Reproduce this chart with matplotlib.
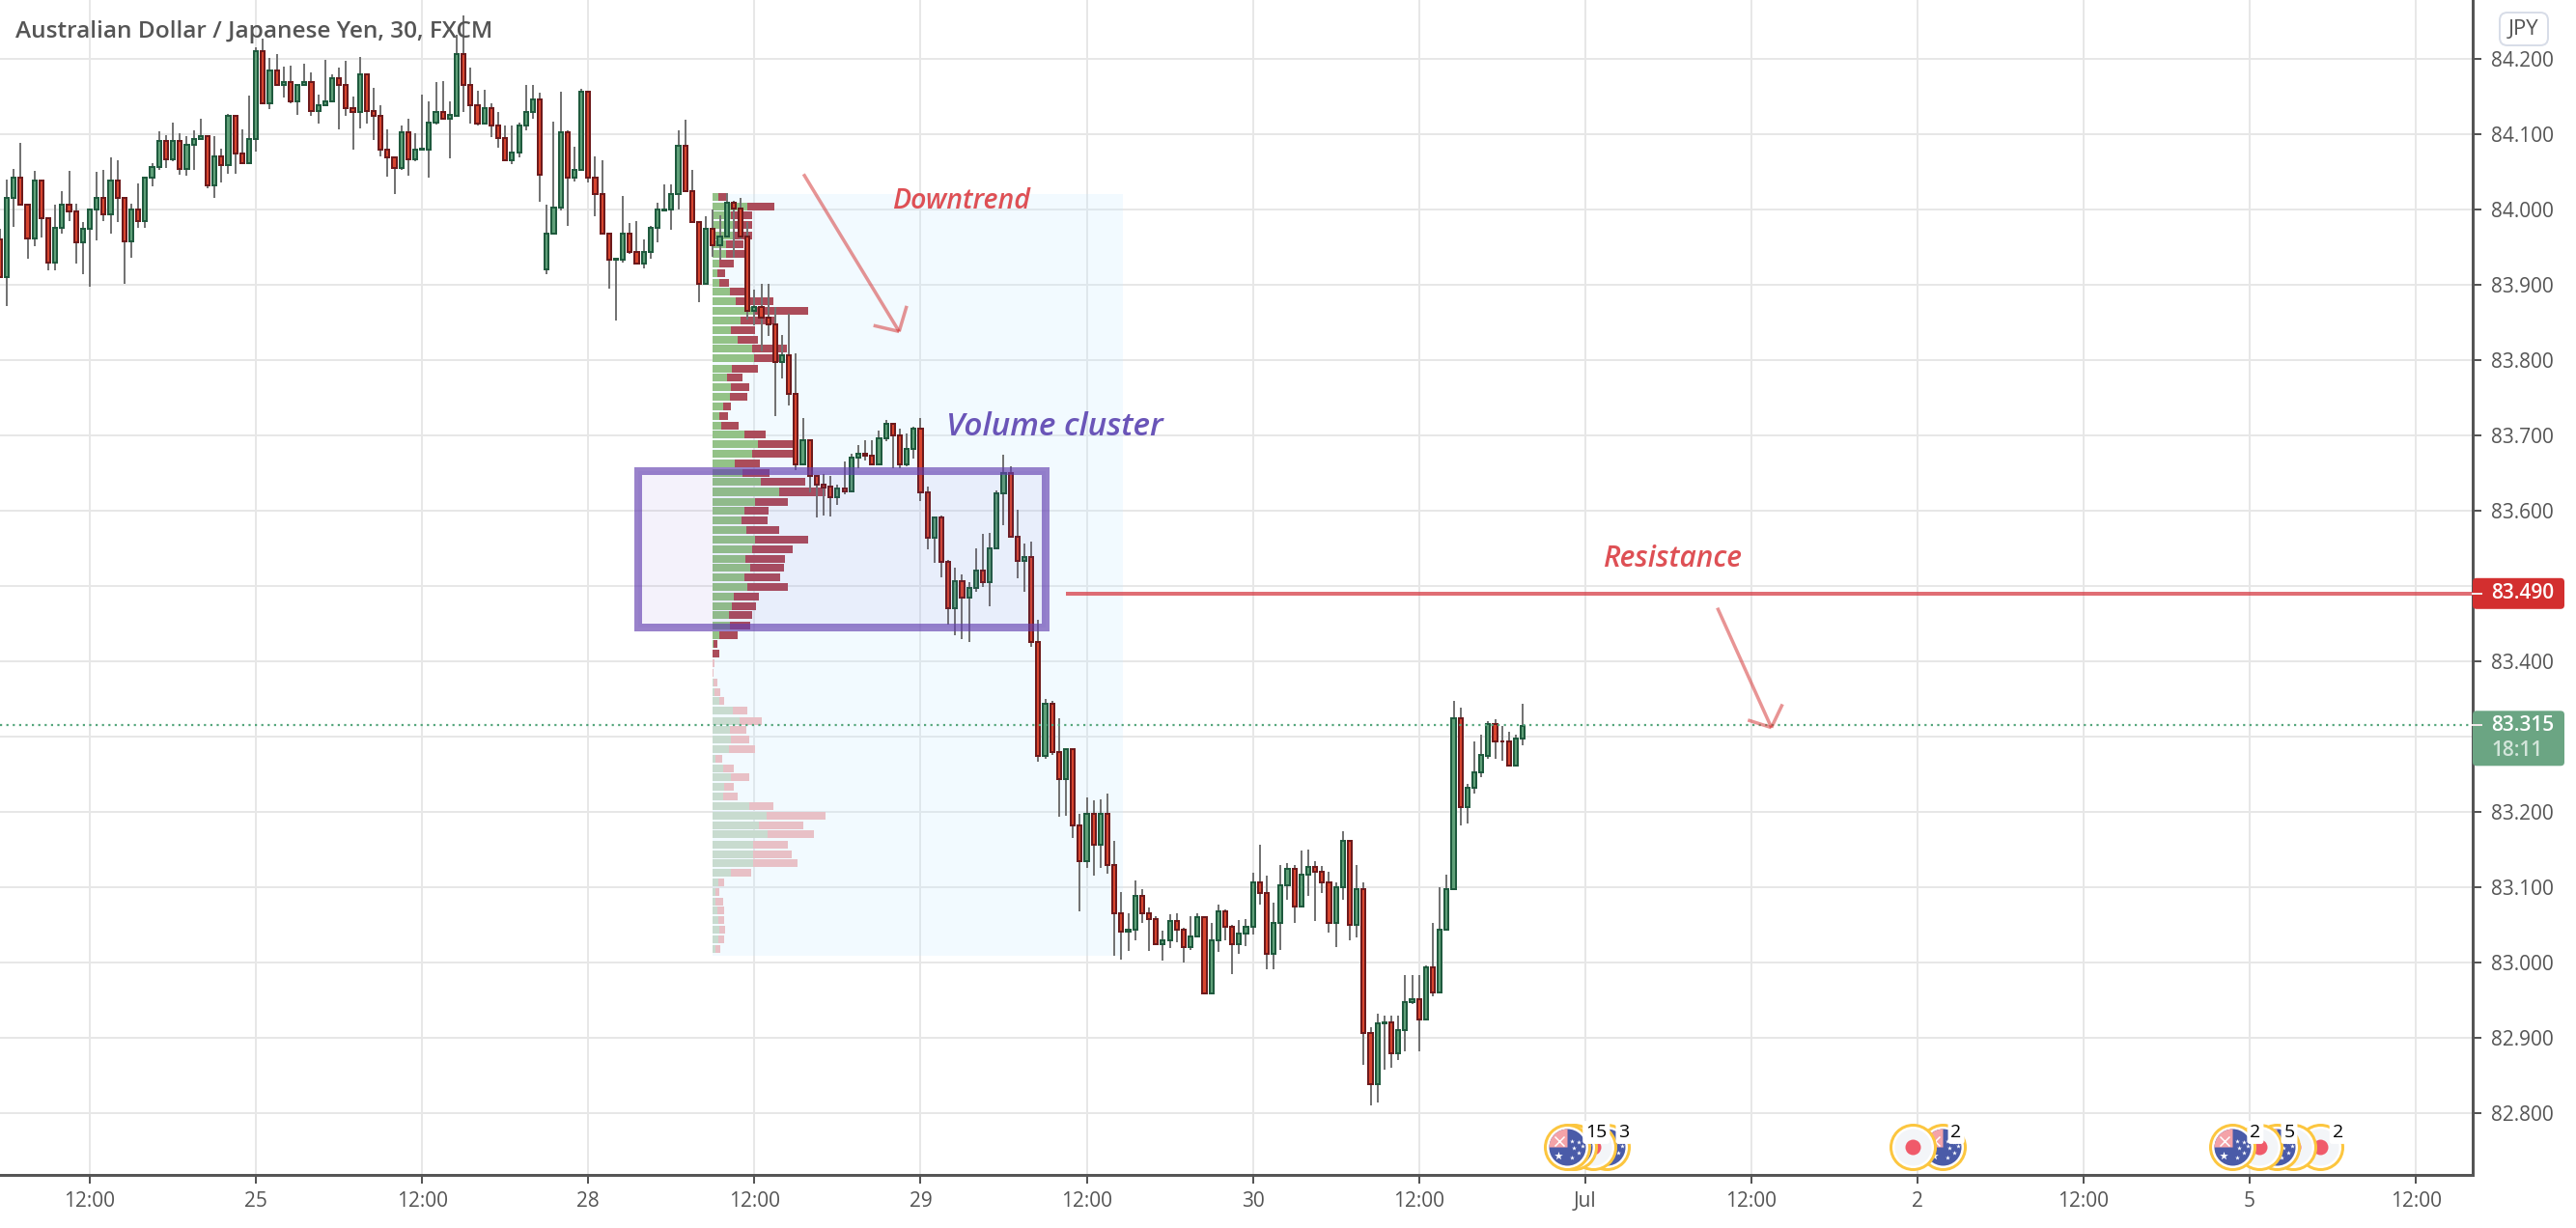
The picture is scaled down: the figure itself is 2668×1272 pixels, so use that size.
import numpy as np
import matplotlib
matplotlib.use('Agg')
import matplotlib.pyplot as plt
from matplotlib.patches import Rectangle, FancyBboxPatch
from matplotlib.path import Path
from matplotlib.transforms import IdentityTransform

# AUD/JPY 30 minute candles
opens = [83.960,83.910,84.015,84.042,84.006,83.962,84.038,83.989,83.930,83.976,
84.006,83.998,83.956,83.974,84.000,84.015,83.994,84.039,84.015,83.958,
84.000,83.984,84.042,84.056,84.091,84.067,84.091,84.054,84.086,84.093,
84.097,84.032,84.071,84.059,84.124,84.074,84.062,84.094,84.210,84.141,
84.185,84.166,84.169,84.143,84.166,84.169,84.131,84.139,84.143,84.175,
84.165,84.134,84.129,84.179,84.131,84.124,84.079,84.069,84.055,84.102,
84.067,84.079,84.080,84.115,84.130,84.121,84.125,84.206,84.166,84.139,
84.114,84.134,84.112,84.095,84.065,84.076,84.111,84.129,84.146,83.920,
83.968,84.003,84.102,84.042,84.053,84.156,84.042,84.020,83.968,83.933,
83.933,83.968,83.944,83.928,83.944,83.976,83.999,84.000,84.020,84.085,
84.024,83.983,83.901,83.974,83.953,83.964,84.009,84.001,83.964,83.866,
83.871,83.856,83.848,83.798,83.806,83.755,83.661,83.694,83.646,83.634,
83.632,83.618,83.629,83.626,83.670,83.676,83.673,83.662,83.696,83.716,
83.700,83.661,83.682,83.709,83.625,83.564,83.591,83.532,83.470,83.506,
83.485,83.497,83.520,83.505,83.550,83.623,83.650,83.566,83.533,83.538,
83.426,83.275,83.344,83.280,83.244,83.283,83.182,83.134,83.198,83.156,
83.198,83.130,83.065,83.041,83.043,83.088,83.065,83.058,83.025,83.030,
83.055,83.043,83.021,83.034,83.060,82.959,83.029,83.068,83.047,83.024,
83.039,83.047,83.107,83.092,83.012,83.052,83.102,83.125,83.075,83.117,
83.127,83.120,83.107,83.053,83.100,83.161,83.050,83.097,82.907,82.838,
82.919,82.921,82.879,82.910,82.948,82.951,82.925,82.993,82.960,83.043,
83.098,83.324,83.207,83.232,83.253,83.275,83.317,83.294,83.293,83.262,
83.298]
closes = [83.910,84.015,84.042,84.006,83.962,84.038,83.989,83.930,83.976,84.006,
83.998,83.956,83.974,84.000,84.015,83.994,84.039,84.015,83.958,84.000,
83.984,84.042,84.056,84.091,84.067,84.091,84.054,84.086,84.093,84.097,
84.032,84.071,84.059,84.124,84.074,84.062,84.094,84.210,84.141,84.185,
84.166,84.169,84.143,84.166,84.169,84.131,84.139,84.143,84.175,84.165,
84.134,84.129,84.179,84.131,84.124,84.079,84.069,84.055,84.102,84.067,
84.079,84.081,84.115,84.130,84.121,84.125,84.206,84.166,84.139,84.114,
84.134,84.112,84.095,84.065,84.076,84.111,84.129,84.146,84.046,83.968,
84.003,84.102,84.042,84.053,84.156,84.042,84.020,83.968,83.933,83.934,
83.968,83.944,83.928,83.944,83.976,84.000,84.000,84.020,84.085,84.024,
83.983,83.901,83.974,83.953,83.964,84.009,84.001,83.964,83.866,83.871,
83.856,83.848,83.798,83.806,83.755,83.661,83.694,83.646,83.634,83.631,
83.618,83.629,83.626,83.670,83.676,83.673,83.662,83.696,83.716,83.700,
83.661,83.682,83.709,83.625,83.564,83.591,83.532,83.470,83.506,83.485,
83.497,83.520,83.505,83.550,83.623,83.650,83.566,83.533,83.538,83.426,
83.275,83.344,83.280,83.244,83.283,83.182,83.134,83.198,83.156,83.198,
83.130,83.065,83.041,83.043,83.088,83.065,83.058,83.025,83.030,83.055,
83.043,83.021,83.034,83.060,82.959,83.029,83.068,83.047,83.024,83.039,
83.047,83.107,83.092,83.012,83.052,83.102,83.125,83.075,83.117,83.127,
83.120,83.107,83.053,83.100,83.161,83.050,83.097,82.907,82.838,82.919,
82.921,82.879,82.910,82.948,82.951,82.925,82.993,82.960,83.043,83.098,
83.324,83.207,83.232,83.253,83.275,83.317,83.294,83.293,83.262,83.298,
83.314]
highs = [83.975,84.040,84.054,84.088,84.006,84.051,84.038,83.989,84.006,84.024,
84.051,84.008,83.983,84.000,84.050,84.052,84.069,84.065,84.015,84.008,
84.035,84.044,84.062,84.104,84.099,84.115,84.101,84.097,84.105,84.121,
84.098,84.097,84.081,84.127,84.124,84.106,84.151,84.215,84.227,84.201,
84.206,84.190,84.191,84.166,84.193,84.182,84.153,84.199,84.180,84.189,
84.197,84.150,84.202,84.179,84.161,84.138,84.106,84.069,84.111,84.121,
84.101,84.152,84.143,84.169,84.170,84.143,84.232,84.258,84.188,84.158,
84.159,84.141,84.129,84.112,84.112,84.116,84.165,84.165,84.155,84.006,
84.117,84.156,84.105,84.083,84.160,84.156,84.071,84.065,83.968,83.936,
84.018,83.982,83.985,83.960,83.978,84.009,84.033,84.033,84.105,84.119,
84.053,83.983,83.991,84.000,83.992,84.022,84.011,84.015,83.983,83.894,
83.901,83.901,83.870,83.833,83.861,83.809,83.723,83.694,83.647,83.649,
83.646,83.634,83.665,83.676,83.687,83.694,83.693,83.706,83.721,83.716,
83.709,83.703,83.711,83.723,83.632,83.591,83.593,83.535,83.524,83.515,
83.505,83.550,83.569,83.570,83.627,83.674,83.659,83.601,83.556,83.559,
83.455,83.350,83.347,83.324,83.283,83.283,83.197,83.219,83.216,83.217,
83.225,83.161,83.093,83.065,83.109,83.097,83.073,83.061,83.042,83.064,
83.066,83.046,83.062,83.066,83.061,83.052,83.077,83.070,83.050,83.056,
83.058,83.119,83.157,83.116,83.079,83.129,83.132,83.130,83.149,83.150,
83.134,83.128,83.120,83.107,83.174,83.161,83.129,83.107,82.914,82.932,
82.929,82.930,82.930,82.983,82.983,82.983,82.996,83.053,83.100,83.117,
83.348,83.339,83.237,83.293,83.303,83.321,83.323,83.314,83.307,83.303,
83.344]
lows = [83.910,83.872,83.977,84.006,83.934,83.951,83.963,83.919,83.919,83.968,
83.985,83.928,83.914,83.897,83.959,83.985,83.968,83.983,83.901,83.936,
83.976,83.976,84.031,84.053,84.055,84.064,84.046,84.045,84.053,84.093,
84.028,84.015,84.036,84.047,84.047,84.060,84.061,84.077,84.141,84.133,
84.166,84.149,84.141,84.126,84.166,84.124,84.114,84.138,84.143,84.107,
84.124,84.079,84.108,84.114,84.092,84.071,84.044,84.020,84.052,84.045,
84.064,84.079,84.042,84.113,84.120,84.068,84.125,84.130,84.114,84.111,
84.114,84.096,84.082,84.064,84.060,84.069,84.105,84.120,84.010,83.914,
83.968,83.999,83.978,84.037,84.053,84.036,83.991,83.968,83.895,83.852,
83.930,83.941,83.928,83.922,83.935,83.956,83.999,83.973,84.000,84.024,
83.983,83.877,83.901,83.937,83.933,83.964,83.936,83.960,83.854,83.846,
83.812,83.832,83.726,83.776,83.740,83.654,83.661,83.624,83.591,83.594,
83.592,83.608,83.622,83.624,83.656,83.667,83.662,83.662,83.692,83.657,
83.656,83.659,83.669,83.613,83.549,83.531,83.512,83.449,83.435,83.429,
83.426,83.492,83.499,83.473,83.550,83.581,83.566,83.510,83.492,83.419,
83.267,83.270,83.276,83.193,83.195,83.166,83.068,83.126,83.116,83.125,
83.118,83.009,83.004,83.016,83.030,83.052,83.016,83.025,83.003,83.019,
83.027,83.000,83.017,83.034,82.959,82.959,83.014,83.030,82.985,83.012,
83.022,83.037,83.077,82.991,82.991,83.017,83.083,83.053,83.075,83.088,
83.055,83.092,83.040,83.021,83.083,83.030,83.033,82.864,82.810,82.814,
82.858,82.860,82.871,82.882,82.945,82.882,82.924,82.955,82.959,83.043,
83.097,83.182,83.184,83.225,83.246,83.270,83.271,83.268,83.261,83.262,
83.289]

# fixed range volume profile, one row per price level
profile_prices = [84.017,84.004,83.992,83.979,83.966,83.954,83.941,83.928,83.916,83.903,
83.891,83.878,83.865,83.853,83.840,83.827,83.815,83.802,83.789,83.777,
83.764,83.751,83.739,83.726,83.713,83.701,83.688,83.676,83.663,83.650,
83.638,83.625,83.612,83.600,83.587,83.574,83.562,83.549,83.536,83.524,
83.511,83.499,83.486,83.473,83.461,83.448,83.435,83.423,83.410,83.397,
83.385,83.372,83.359,83.347,83.334,83.321,83.309,83.296,83.283,83.271,
83.258,83.246,83.233,83.220,83.208,83.195,83.182,83.170,83.157,83.144,
83.132,83.119,83.107,83.094,83.081,83.069,83.056,83.043,83.031,83.018]
buy_vol = [18,108,57,67,66,42,42,21,15,21,
54,72,126,87,57,78,123,129,60,45,
57,54,33,21,27,99,141,123,69,93,
150,207,132,99,90,105,132,123,102,117,
99,108,66,60,51,54,21,3,0,0,
0,3,6,21,63,84,54,57,51,9,
33,57,36,33,114,168,144,171,126,126,
126,57,18,9,9,15,18,21,18,9]
total_vol = [46,192,123,123,123,96,102,66,39,51,
105,189,297,195,132,141,231,216,141,93,
114,108,57,48,81,165,261,258,147,177,
288,351,234,174,171,207,297,249,225,222,
210,234,144,135,123,117,78,15,21,6,
3,15,24,36,108,153,105,114,132,30,
66,114,66,78,189,351,282,315,234,246,
264,120,36,21,33,36,36,39,36,24]

price_ticks = [82.8,82.9,83.0,83.1,83.2,83.3,83.4,83.5,83.6,83.7,83.8,83.9,84.0,84.1,84.2]
# 83.300 and 83.500 sit under the last price and resistance tags
price_labels = ['82.800','82.900','83.000','83.100','83.200','','83.400','','83.600','83.700','83.800','83.900','84.000','84.100','84.200']
time_ticks = [13,37,61,85,109,133,157,181,205,229,253,277,301,325,349]
time_labels = ['12:00','25','12:00','28','12:00','29','12:00','30','12:00','Jul','12:00','2','12:00','5','12:00']

# economic calendar events on the time axis
event_bars = [226.4,227.4,230.1,232.1,276.3,280.6,322.5,326.4,328.9,331.3,335.2]
event_kinds = ['AU','AU','JP','AU','JP','AU','AU','JP','AU','JP','JP']
count_bars = [230.6,234.6,282.6,325.8,330.7,337.7]
count_labels = ['15','3','2','2','5','2']

last_price = 83.315
resistance = 83.490

font = 'Open Sans'
W, H = 2668, 1272
AXIS_X, AXIS_Y = 2561, 1217
BAR_PX = 7.17
PRICE_PX = 780.0
px = 0.72  # points per pixel at dpi 100

plt.rcParams['font.family'] = [font, 'DejaVu Sans']
fig = plt.figure(figsize=(W / 100, H / 100), dpi=100, facecolor='white')
ax = fig.add_axes([0, (H - AXIS_Y) / H, AXIS_X / W, AXIS_Y / H])
ax.set_xlim(0.024, 357.2)
ax.set_ylim(84.2 - (AXIS_Y - 61) / PRICE_PX, 84.2 + 61 / PRICE_PX)

ax.set_xticks(time_ticks, time_labels)
ax.set_yticks(price_ticks, price_labels)
ax.yaxis.tick_right()
ax.set_axisbelow(True)
ax.grid(True, color='#e7e7e7', linewidth=2 * px)
ax.tick_params(axis='both', colors='#555555', labelsize=15, length=9 * px, width=2 * px)
ax.tick_params(axis='x', pad=6)
ax.tick_params(axis='y', pad=7)
for s in ['top', 'left']:
    ax.spines[s].set_visible(False)
for s in ['bottom', 'right']:
    ax.spines[s].set_color('#555555')
    ax.spines[s].set_linewidth(3 * px)

# blue date range background
ax.add_patch(Rectangle((102.95, 83.009), 59.25, 1.012, facecolor=(0.78, 0.92, 1.0, 0.22),
                       edgecolor='none', zorder=1))

# volume profile
vol_scale = 1 / (3 * BAR_PX)
buy = np.array(buy_vol)
total = np.array(total_vol)
faded = np.arange(len(buy)) >= 49
buy_colors = np.where(faded, '#c8dbcf', '#93c287')
sell_colors = np.where(faded, '#e8c0c6', '#ab4c5a')
ax.barh(profile_prices, buy * vol_scale, height=0.0103, left=102.95, color=buy_colors, zorder=2)
ax.barh(profile_prices, (total - buy) * vol_scale, height=0.0103, left=102.95 + buy * vol_scale,
        color=sell_colors, zorder=2)

# candles
o = np.array(opens)
c = np.array(closes)
bars = np.arange(len(o))
up = c >= o
ax.vlines(bars, lows, highs, color='#737373', linewidth=2 * px, zorder=3)
ax.bar(bars[up], (c - o)[up], width=0.58, bottom=o[up], color='#5fa078', edgecolor='#1f5a3e',
       linewidth=2 * px, zorder=4)
ax.bar(bars[~up], (o - c)[~up], width=0.58, bottom=c[~up], color='#d8452f', edgecolor='#6d1a1c',
       linewidth=2 * px, zorder=4)

# drawings
ax.add_patch(Rectangle((92.2, 83.445), 58.9, 0.208, facecolor=(0.42, 0.33, 0.78, 0.07),
                       edgecolor=(0.39, 0.25, 0.69, 0.65), linewidth=8 * px, joinstyle='miter', zorder=5))
ax.plot([154.0, 357.2], [resistance, resistance], color=(0.84, 0.24, 0.27, 0.75),
        linewidth=4 * px, solid_capstyle='butt', zorder=5)
ax.axhline(last_price, color='#55a67c', linewidth=2.2 * px, linestyle=(0, (1, 2)), zorder=5)

arrow_color = (0.84, 0.24, 0.24, 0.55)
for xs, ys in [([116.1, 129.9], [84.047, 83.838]), ([126.2, 129.9], [83.846, 83.838]),
               ([131.0, 129.9], [83.872, 83.838]), ([248.1, 255.9], [83.471, 83.312]),
               ([252.5, 255.9], [83.322, 83.312]), ([257.5, 255.9], [83.343, 83.312])]:
    ax.plot(xs, ys, color=arrow_color, linewidth=3.5 * px, solid_capstyle='butt', zorder=5)

ax.text(138.8, 84.011, 'Downtrend', color='#de5055', fontsize=20.5, style='italic', weight='semibold',
        ha='center', va='center', zorder=6)
ax.text(152.3, 83.711, 'Volume cluster', color='#6a55b8', fontsize=24, style='italic', weight='semibold',
        ha='center', va='center', zorder=6)
ax.text(241.7, 83.536, 'Resistance', color='#de5055', fontsize=21.5, style='italic', weight='semibold',
        ha='center', va='center', zorder=6)

# event icons, the leftmost one lies on top
wedge = Path.wedge(90, 180)
event_y = 84.2 - (1188 - 61) / PRICE_PX
star_px = [(5, -6), (12, -5), (16, -1), (7, 1), (12, 6), (5, 11)]
for k, (x, kind) in enumerate(zip(event_bars, event_kinds)):
    z = 7 + (len(event_bars) - k) * 0.01
    ax.scatter(x, event_y, s=(46 * px) ** 2, color='white', edgecolor='#fcc63f', linewidth=3 * px,
               zorder=z, clip_on=False)
    if kind == 'JP':
        ax.scatter(x, event_y, s=(38 * px) ** 2, color='#f3f5f8', linewidth=0, zorder=z)
        ax.scatter(x, event_y, s=(16 * px) ** 2, color='#f05a6a', linewidth=0, zorder=z)
    else:
        ax.scatter(x, event_y, s=(38 * px) ** 2, color='#4a5ba8', linewidth=0, zorder=z)
        ax.scatter(x, event_y, s=(38 * px) ** 2, marker=wedge, color='#f4a3a8', linewidth=0, zorder=z)
        ax.scatter(x - 8 / BAR_PX, event_y + 6 / PRICE_PX, s=(10 * px) ** 2, marker='x', color='white',
                   linewidth=1.5 * px, zorder=z)
        ax.scatter(x - 9 / BAR_PX, event_y - 9 / PRICE_PX, s=(9 * px) ** 2, marker='*', color='white',
                   linewidth=0, zorder=z)
        for dx, dy in star_px:
            ax.scatter(x + dx / BAR_PX, event_y - dy / PRICE_PX, s=(5 * px) ** 2, marker='*', color='white',
                       linewidth=0, zorder=z)
for x, label in zip(count_bars, count_labels):
    ax.text(x, event_y + 15 / PRICE_PX, label, color='black', fontsize=14, ha='center', va='center', zorder=8,
            bbox=dict(boxstyle='round,pad=0.15', facecolor='white', edgecolor='none'))

# price labels on the axis
ident = IdentityTransform()
res_y = ax.transData.transform((0, resistance))[1]
last_y = ax.transData.transform((0, last_price))[1]
ax.add_patch(FancyBboxPatch((AXIS_X, res_y - 16), 95, 32, boxstyle='round,pad=0,rounding_size=4', facecolor='#d32f2f',
                            edgecolor='none', transform=ident, clip_on=False, zorder=9))
ax.add_patch(FancyBboxPatch((AXIS_X, last_y - 42), 95, 57, boxstyle='round,pad=0,rounding_size=4', facecolor='#6ba583',
                            edgecolor='none', transform=ident, clip_on=False, zorder=9))
for y in [res_y, last_y]:
    ax.plot([AXIS_X, AXIS_X + 9], [y, y], color='#f0e8e8', linewidth=2 * px, transform=ident, clip_on=False, zorder=10)
ax.text(AXIS_X + 19, res_y, f'{resistance:.3f}', color='white', fontsize=15, weight='semibold', va='center',
        transform=ident, clip_on=False, zorder=10)
ax.text(AXIS_X + 19, last_y, f'{last_price:.3f}', color='white', fontsize=15, weight='semibold', va='center',
        transform=ident, clip_on=False, zorder=10)
ax.text(AXIS_X + 19, last_y - 26, '18:11', color='#d3e5da', fontsize=15, weight='semibold', va='center',
        transform=ident, clip_on=False, zorder=10)

# currency button and title
ax.add_patch(FancyBboxPatch((2589, H - 47), 50, 34, boxstyle='round,pad=0,rounding_size=8', facecolor='white',
                            edgecolor='#d8dde8', linewidth=2 * px, transform=ident, clip_on=False, zorder=9))
ax.text(2614, H - 30, 'JPY', color='#555555', fontsize=16, ha='center', va='center', transform=ident,
        clip_on=False, zorder=10)
fig.text(16 / W, 1 - 33 / H, 'Australian Dollar / Japanese Yen, 30, FXCM', color='#555555', fontsize=17.6,
         weight='semibold', va='center', zorder=20)

fig.savefig('out.png', dpi=100)
